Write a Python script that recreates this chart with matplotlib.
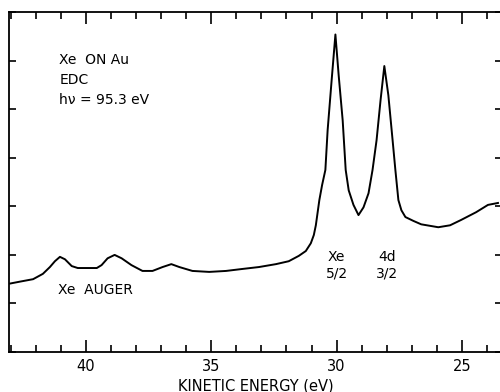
import matplotlib
matplotlib.use("Agg")
import matplotlib.pyplot as plt
from matplotlib.ticker import MultipleLocator, NullFormatter

# kinetic energy (eV) and intensity (arb. units)
energy = [43.02, 42.62, 42.10, 41.71, 41.43, 41.23, 41.03, 40.83, 40.56, 40.32,
          39.56, 39.37, 39.13, 38.85, 38.57, 38.18, 37.74, 37.34, 36.94, 36.59,
          36.27, 35.75, 35.08, 34.41, 33.77, 33.10, 32.42, 31.91, 31.51, 31.23,
          31.03, 30.91, 30.83, 30.69, 30.58, 30.45, 30.36, 30.20, 30.05, 29.92,
          29.76, 29.64, 29.52, 29.33, 29.13, 28.93, 28.73, 28.57, 28.41, 28.25,
          28.10, 27.94, 27.77, 27.66, 27.54, 27.42, 27.26, 26.94, 26.63, 25.95,
          25.48, 25.04, 24.44, 23.97, 23.57]
intensity = [1.41, 1.45, 1.50, 1.61, 1.75, 1.87, 1.96, 1.91, 1.77, 1.73,
             1.73, 1.79, 1.93, 2.00, 1.93, 1.79, 1.67, 1.67, 1.75, 1.81,
             1.75, 1.67, 1.65, 1.67, 1.71, 1.75, 1.81, 1.87, 1.98, 2.08,
             2.24, 2.41, 2.61, 3.13, 3.44, 3.75, 4.57, 5.60, 6.54, 5.70,
             4.77, 3.75, 3.33, 3.03, 2.82, 2.98, 3.27, 3.75, 4.36, 5.19,
             5.89, 5.29, 4.36, 3.75, 3.13, 2.92, 2.78, 2.70, 2.63, 2.57,
             2.61, 2.72, 2.88, 3.03, 3.07]

fig = plt.figure(figsize=(5, 3.92), dpi=100)
ax = fig.add_axes([0.018, 0.102, 0.987, 0.867])

ax.plot(energy, intensity, color='black', linewidth=1.4)

ax.set_xlim(43.06, 23.39)
ax.set_ylim(0, 7)

ax.xaxis.set_major_locator(MultipleLocator(5))
ax.xaxis.set_minor_locator(MultipleLocator(1))
ax.yaxis.set_major_locator(MultipleLocator(1))
ax.yaxis.set_major_formatter(NullFormatter())

ax.tick_params(which='both', direction='in', top=True, right=True, width=1.2)
ax.tick_params(axis='x', which='major', length=8.5, labelsize=10.5, pad=5)
ax.tick_params(axis='x', which='minor', length=5)
ax.tick_params(axis='y', which='major', length=5)
for s in ax.spines.values():
    s.set_linewidth(1.3)

ax.set_xlabel('KINETIC ENERGY (eV)', fontsize=10.5, labelpad=3)

ax.text(0.102, 0.88, 'Xe  ON Au\nEDC\nh\u03bd = 95.3 eV', transform=ax.transAxes,
        fontsize=10, va='top', ha='left', linespacing=1.55)
ax.text(39.6, 1.28, 'Xe  AUGER', fontsize=10, ha='center', va='center')
ax.text(30.0, 1.78, 'Xe\n5/2', fontsize=10, ha='center', va='center', linespacing=1.2)
ax.text(28.0, 1.78, '4d\n3/2', fontsize=10, ha='center', va='center', linespacing=1.2)

fig.savefig('out.png', dpi=100)
